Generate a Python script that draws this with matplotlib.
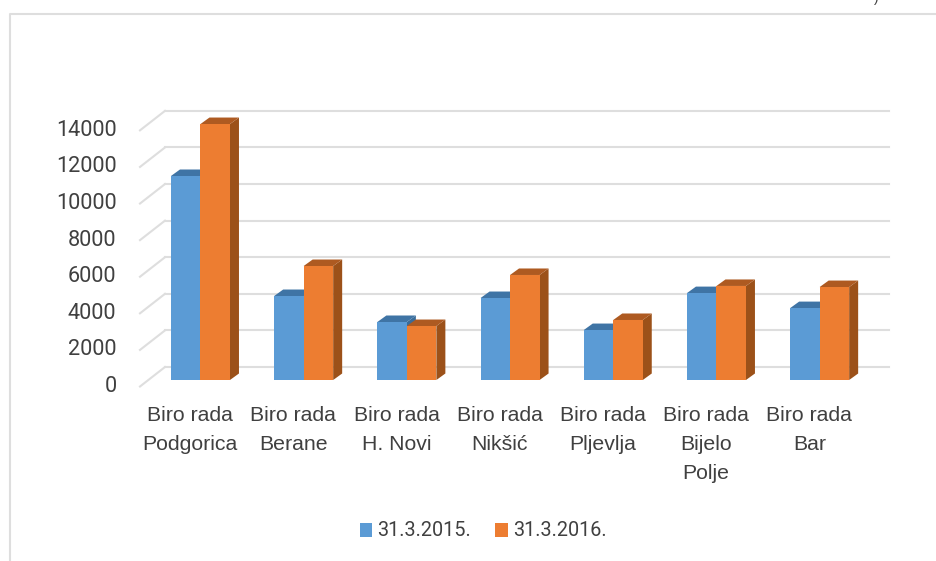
import numpy as np
import matplotlib
matplotlib.use('Agg')
import matplotlib.pyplot as plt
from matplotlib.lines import Line2D
from matplotlib.patches import Polygon
from matplotlib.transforms import ScaledTranslation

# 数据
categories = ['Biro rada\nPodgorica', 'Biro rada\nBerane', 'Biro rada\nH. Novi', 'Biro rada\nNikšić',
              'Biro rada\nPljevlja', 'Biro rada\nBijelo\nPolje', 'Biro rada\nBar']
values_2015 = [11150, 4590, 3170, 4480, 2730, 4750, 3930]
values_2016 = [13990, 6230, 2950, 5740, 3280, 5140, 5080]
y_ticks = [0, 2000, 4000, 6000, 8000, 10000, 12000, 14000]

plt.rcParams['font.family'] = ['Liberation Sans', 'DejaVu Sans']
text_color = '#404040'
grid_color = '#dedede'

W, H = 936, 561
fig = plt.figure(figsize=(W / 100, H / 100), dpi=100)
ax = fig.add_axes([140 / W, (H - 380) / H, 749 / W, 270 / H])
ax.set_xlim(-0.586, 6.672)
ax.set_ylim(0, 14757)

px_x = 7.258 / 749  # 每像素的 x 数据单位
px_y = 14757 / 270  # 每像素的 y 数据单位

# 背景网格和左侧斜线
for v in y_ticks:
    back = v + 13 * px_y
    front = v - 6.5 * px_y
    ax.plot([-0.586 + 25 * px_x, 6.672], [back, back], color=grid_color, lw=1.5, zorder=1, clip_on=False)
    ax.plot([-0.586, -0.586 + 25 * px_x], [front, back], color=grid_color, lw=1.5, zorder=1, clip_on=False)

width = 29.5 * px_x
dx = 9 * px_x
dy = 6.5 * px_y


# 画一根带侧面和顶面的柱子
def draw_bar(x, v, front_color, top_color, side_color, label, z):
    side = [(x + width / 2, 0), (x + width / 2 + dx, dy), (x + width / 2 + dx, v + dy), (x + width / 2, v)]
    top = [(x - width / 2, v), (x - width / 2 + dx, v + dy), (x + width / 2 + dx, v + dy), (x + width / 2, v)]
    ax.add_patch(Polygon(side, closed=True, fc=side_color, ec='none', zorder=z, clip_on=False))
    ax.add_patch(Polygon(top, closed=True, fc=top_color, ec='none', zorder=z, clip_on=False))
    return ax.bar(x, v, width, color=front_color, zorder=z + 0.005, label=label, clip_on=False)


x = np.arange(len(categories))
for i in x:
    b1 = draw_bar(i - width / 2, values_2015[i], '#5b9bd5', '#3f74a5', '#3a6c99', '31.3.2015.', 2 + i * 0.1)
    b2 = draw_bar(i + width / 2, values_2016[i], '#ed7d31', '#ae5a21', '#9c5119', '31.3.2016.', 2 + i * 0.1 + 0.01)

# 坐标轴
for s in ax.spines.values():
    s.set_visible(False)
ax.patch.set_visible(False)
ax.set_yticks(y_ticks)
ax.set_yticklabels([str(v) for v in y_ticks], family=['Roboto', 'DejaVu Sans'], fontsize=15.6)
ax.set_xticks(x - 0.1)
ax.set_xticklabels(categories, linespacing=1.66)
ax.tick_params(axis='x', length=0, labelsize=15.3, labelcolor=text_color, pad=19)
ax.tick_params(axis='y', length=0, labelcolor=text_color, pad=17)
shift = ScaledTranslation(0, -4 / 100, fig.dpi_scale_trans)
for lab in ax.get_yticklabels():
    lab.set_fontsize(15.6)
    lab.set_transform(lab.get_transform() + shift)

# 图例
fig.legend([b1, b2], ['31.3.2015.', '31.3.2016.'], loc='center', bbox_to_anchor=(483 / W, (H - 531) / H),
           ncol=2, frameon=False, fontsize=14.3, labelcolor=text_color, borderpad=0, borderaxespad=0,
           handlelength=0.65, handleheight=0.7, handletextpad=0.25, columnspacing=1.2,
           prop={'family': ['Roboto', 'DejaVu Sans'], 'size': 14.3})

# 外框(只看得到左边和上边)
fig.add_artist(Line2D([9.5 / W, 9.5 / W, 1], [0, (H - 13.5) / H, (H - 13.5) / H], color=grid_color, lw=1.5))
fig.text(876 / W, 1.004, ')', fontsize=10, color=text_color, ha='center', va='center')

plt.savefig('out.png', dpi=100)
